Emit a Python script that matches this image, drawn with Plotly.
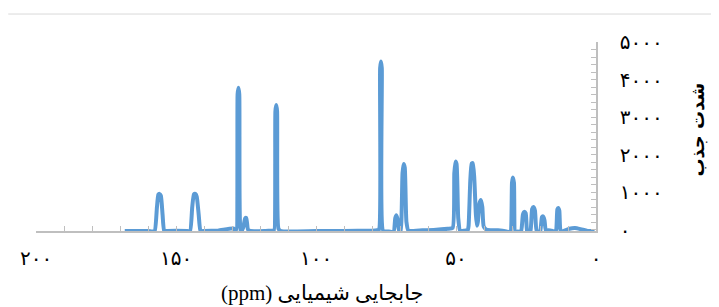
import plotly.graph_objects as go

# Chemical shift (ppm) and absorption intensity
ppm = [168.3, 160.0, 158.5, 157.6, 156.8, 156.3, 155.9, 155.4, 154.8, 154.2, 153.5,
       150.0, 146.0, 145.0, 144.2, 143.6, 143.1, 142.6, 141.9, 141.2, 140.3,
       135.0, 129.5, 128.6, 128.0, 127.7, 127.4, 126.9, 126.0, 125.3, 124.9, 124.3, 123.5,
       118.0, 115.5, 115.0, 114.5, 114.2, 113.9, 113.4, 112.5,
       100.0, 90.0, 80.0, 78.2, 77.5, 77.1, 76.8, 76.5, 76.0, 74.5,
       72.3, 71.7, 71.3, 70.8, 70.3, 69.8, 69.1, 68.7, 68.3, 67.7, 67.0,
       62.0, 58.0, 53.0, 51.2, 50.6, 50.2, 49.8, 49.2, 48.5,
       47.0, 45.8, 45.5, 44.9, 44.4, 44.0, 43.5, 42.9, 42.5, 42.2, 41.6, 41.1, 40.6, 40.1, 39.0,
       35.0, 32.0, 31.0, 30.5, 30.0, 29.7, 29.3, 28.8, 28.0,
       26.8, 26.1, 25.6, 25.1, 24.6, 24.0, 23.4, 22.8, 22.3, 21.8, 21.2, 20.3,
       19.9, 19.3, 18.9, 18.4, 17.9, 17.0, 15.5, 14.7, 14.2, 13.8, 13.5, 13.1, 12.6, 11.5,
       9.5, 7.5, 5.5, 3.0, 0.5]
intensity = [-40, -40, -55, -40, 600, 930, 950, 900, 400, -60, -40,
             -30, -40, -50, 600, 940, 950, 880, 400, -70, -40,
             -30, 30, -40, 3600, 3780, 3600, -60, 50, 300, 310, 0, -40,
             -40, -30, -40, 3150, 3320, 3150, 20, -40,
             -40, -40, -30, -20, 0, 4300, 4480, 4300, -40, -50,
             -60, 300, 380, 250, -40, -70, 1500, 1750, 1650, 200, -30,
             -20, -10, 20, 40, 1500, 1810, 1750, 300, -40,
             -30, -20, 100, 1300, 1760, 1770, 1400, 400, 100, 200, 700, 790, 600, 80, -10,
             -20, -50, -70, -60, 1250, 1390, 1250, -70, -50,
             -70, 400, 470, 430, -40, -80, -40, 550, 600, 500, -30, -60,
             -40, 330, 350, 250, -30, -20, -40, -60, 0, 540, 575, 500, -60, -40,
             20, 40, 10, -40, -40]

x_tick_vals = [200, 150, 100, 50, 0]
x_tick_text = ["۲۰۰", "۱۵۰", "۱۰۰", "۵۰", "۰"]
y_tick_vals = [0, 1000, 2000, 3000, 4000, 5000]
y_tick_text = ["۰", "۱۰۰۰", "۲۰۰۰", "۳۰۰۰", "۴۰۰۰", "۵۰۰۰"]

# displayed right-to-left: "(ppm)" sits at the left end of the Persian title
x_title = "(ppm) جابجایی شیمیایی"
y_title = "شدت جذب"

fig = go.Figure()
fig.add_trace(go.Scatter(
    x=ppm, y=intensity, mode="lines",
    line=dict(color="#5B9BD5", width=4, shape="spline", smoothing=0.5),
    hoverinfo="skip", showlegend=False,
))

axis_grey = "#BFBFBF"
tick_font = dict(family="DejaVu Sans", size=20, color="black")

fig.update_layout(
    width=711, height=299,
    margin=dict(l=24, r=122.5, t=34, b=75.5),
    paper_bgcolor="white", plot_bgcolor="white",
    xaxis=dict(
        range=[200, 0], showgrid=False, zeroline=False,
        showline=True, linecolor=axis_grey, linewidth=1.5,
        ticks="inside", ticklen=5, tickcolor=axis_grey, tickwidth=1,
        tickvals=x_tick_vals, ticktext=x_tick_text, tickfont=tick_font,
        ticklabelstandoff=8,
        minor=dict(dtick=10, ticks="inside", ticklen=5, tickcolor=axis_grey, tickwidth=1),
    ),
    yaxis=dict(
        range=[-40, 5000], side="right", showgrid=False, zeroline=False,
        showline=True, linecolor=axis_grey, linewidth=1.5,
        ticks="inside", ticklen=5, tickcolor=axis_grey, tickwidth=1,
        tickvals=y_tick_vals, ticktext=y_tick_text, tickfont=tick_font,
        ticklabelstandoff=18,
        minor=dict(dtick=200, ticks="inside", ticklen=5, tickcolor=axis_grey, tickwidth=1),
    ),
    shapes=[dict(type="line", xref="paper", yref="paper",
                 x0=-0.0496, x1=1.208, y0=1.148, y1=1.148,
                 line=dict(color="#D9D9D9", width=1))],
    annotations=[
        dict(text=x_title, xref="paper", yref="paper", x=0.512, y=-0.33,
             showarrow=False, font=dict(family="Liberation Serif, DejaVu Sans", size=21, color="black"),
             xanchor="center", yanchor="middle"),
        dict(text="<b>" + y_title + "</b>", xref="paper", yref="paper", x=1.182, y=0.536,
             showarrow=False, textangle=-90,
             font=dict(family="DejaVu Sans", size=18, color="black"),
             xanchor="center", yanchor="middle"),
    ],
)

fig.write_html("out.html")
